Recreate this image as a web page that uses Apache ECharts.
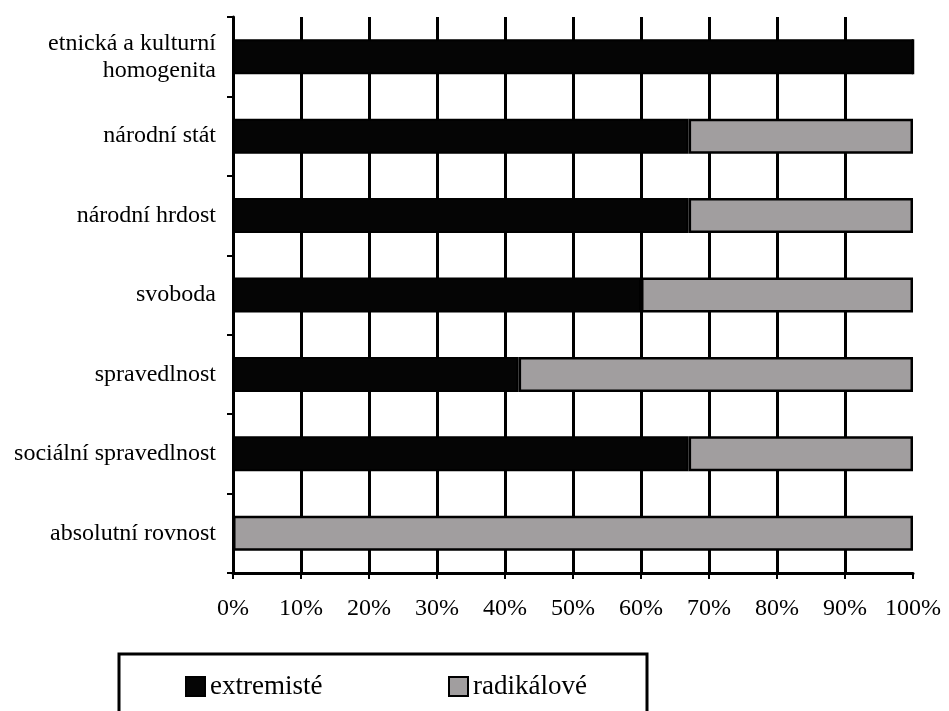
<!DOCTYPE html>
<html>
<head>
<meta charset="utf-8">
<script src="https://cdn.jsdelivr.net/npm/echarts@6/dist/echarts.min.js"></script>
<style>
html,body{margin:0;padding:0;background:#fff;}
#chart{width:949px;height:711px;}
</style>
</head>
<body>
<div id="chart"></div>
<script>
const categories = ['etnická a kulturní\nhomogenita','národní stát','národní hrdost','svoboda','spravedlnost','sociální spravedlnost','absolutní rovnost'];
const extremiste = [100,67,67,60,42,67,0];
const radikalove = [0,33,33,40,58,33,100];
const seriesNames = ['extremisté','radikálové'];
const xTicks = [0,10,20,30,40,50,60,70,80,90,100];

const font = 'Liberation Serif';
const chart = echarts.init(document.getElementById('chart'));
chart.setOption({
  backgroundColor:'#fff',
  animation:false,
  grid:{left:233,right:36,top:17,bottom:138,containLabel:false},
  xAxis:{
    type:'value',min:xTicks[0],max:xTicks[xTicks.length-1],interval:10,
    axisLine:{show:true,lineStyle:{color:'#000',width:3}},
    axisTick:{show:true,length:6,lineStyle:{color:'#000',width:2}},
    axisLabel:{formatter:'{value}%',color:'#000',fontFamily:font,fontSize:24,margin:24},
    splitLine:{show:true,showMinLine:false,showMaxLine:false,lineStyle:{color:'#000',width:3}}
  },
  yAxis:{
    type:'category',inverse:true,data:categories,
    axisLine:{show:true,lineStyle:{color:'#000',width:3}},
    axisTick:{show:true,length:6,interval:0,lineStyle:{color:'#000',width:2}},
    axisLabel:{color:'#000',fontFamily:font,fontSize:24,margin:17,lineHeight:27,align:'right'},
    splitLine:{show:false}
  },
  legend:[
    {data:[seriesNames[0]],left:180,top:668,itemWidth:19,itemHeight:19,itemGap:7,icon:'rect',
     textStyle:{fontFamily:font,fontSize:27,color:'#000'}},
    {data:[seriesNames[1]],left:443,top:668,itemWidth:19,itemHeight:19,itemGap:7,icon:'rect',
     textStyle:{fontFamily:font,fontSize:27,color:'#000'}}
  ],
  graphic:[{type:'rect',shape:{x:119,y:654,width:528,height:90},style:{fill:'none',stroke:'#000',lineWidth:3},z:-1}],
  series:[
    {name:seriesNames[0],type:'bar',stack:'s',data:extremiste,barWidth:35,
     itemStyle:{color:'#050505',borderColor:'#000',borderWidth:2}},
    {name:seriesNames[1],type:'bar',stack:'s',data:radikalove,barWidth:35,
     itemStyle:{color:'#a19e9f',borderColor:'#000',borderWidth:2.5}}
  ]
});
</script>
</body>
</html>
